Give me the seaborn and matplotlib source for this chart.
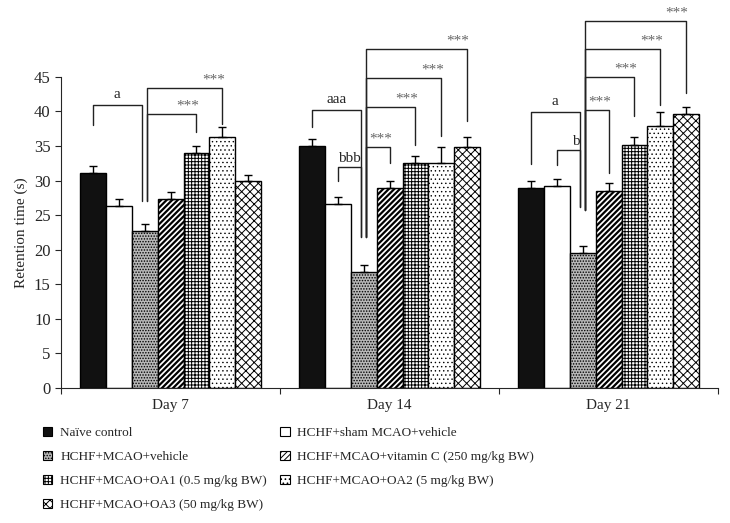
import numpy as np
import pandas as pd
import matplotlib
matplotlib.use("Agg")
import matplotlib.pyplot as plt
from matplotlib.patches import Patch
import seaborn as sns

days = ["Day 7", "Day 14", "Day 21"]
groups = ["Naïve control", "HCHF+sham MCAO+vehicle", "HCHF+MCAO+vehicle",
          "HCHF+MCAO+vitamin C (250 mg/kg BW)", "HCHF+MCAO+OA1 (0.5 mg/kg BW)",
          "HCHF+MCAO+OA2 (5 mg/kg BW)", "HCHF+MCAO+OA3 (50 mg/kg BW)"]

day7 = [31.1, 26.4, 22.7, 27.3, 34.0, 36.3, 30.0]
day14 = [35.0, 26.6, 16.8, 28.9, 32.6, 32.5, 34.9]
day21 = [29.0, 29.2, 19.6, 28.5, 35.2, 37.9, 39.6]

err7 = [1.0, 0.9, 1.0, 1.0, 1.0, 1.5, 0.8]
err14 = [1.0, 1.0, 1.0, 1.0, 1.0, 2.4, 1.4]
err21 = [1.0, 1.0, 1.0, 1.1, 1.1, 2.0, 1.1]

# brackets: day index, bar i, bar j, top, bottom of left leg, bottom of right leg, label
brackets = [
    (0, 0, 2, 40.9, 38.0, 27.0, "a"),
    (0, 2, 4, 39.7, 27.0, 37.0, "***"),
    (0, 2, 5, 43.4, 27.0, 38.2, "***"),
    (1, 0, 2, 40.2, 37.8, 21.9, "aaa"),
    (1, 1, 2, 32.0, 29.9, 21.9, "bbb"),
    (1, 2, 3, 34.9, 21.9, 32.5, "***"),
    (1, 2, 4, 40.7, 21.9, 35.1, "***"),
    (1, 2, 5, 44.8, 21.9, 36.4, "***"),
    (1, 2, 6, 49.0, 21.9, 38.6, "***"),
    (2, 0, 2, 39.9, 32.4, 26.2, "a"),
    (2, 1, 2, 34.4, 32.2, 26.2, "b"),
    (2, 2, 3, 40.2, 25.8, 31.1, "***"),
    (2, 2, 4, 45.0, 25.8, 39.3, "***"),
    (2, 2, 5, 49.0, 25.8, 41.0, "***"),
    (2, 2, 6, 53.1, 25.8, 42.6, "***"),
]

vals = [day7, day14, day21]
errs = [err7, err14, err21]
df = pd.DataFrame({
    "day": [d for d in days for g in groups],
    "group": groups * 3,
    "value": day7 + day14 + day21,
})

sns.set_style("ticks")
plt.rcParams["font.family"] = ["Liberation Serif", "DejaVu Serif"]
plt.rcParams["hatch.linewidth"] = 0.7

faces = ["#111111", "white", "#b8b8b8", "white", "white", "white", "white"]
hatches = [None, None, "......", "//////", "+++++", "....", "xxxx"]
hatch_lw = [0.7, 0.7, 0.7, 1.6, 0.7, 0.5, 0.7]


def style_patch(p, k):
    p.set_facecolor(faces[k])
    p.set_edgecolor("black")
    if hatches[k]:
        p.set_hatch(hatches[k])
        if hasattr(p, "set_hatch_linewidth"):
            p.set_hatch_linewidth(hatch_lw[k])


fig = plt.figure(figsize=(7.3, 5.23), dpi=100)
ax = fig.add_axes([0.0836, 0.258, 0.9, 0.595])

sns.barplot(data=df, x="day", y="value", hue="group", hue_order=groups,
            width=0.83, gap=0, errorbar=None, ax=ax, legend=False)

bar_conts = list(ax.containers)
centers = {}
for k, cont in enumerate(bar_conts):
    for d, bar in enumerate(cont):
        style_patch(bar, k)
        bar.set_linewidth(1.0)
        cx = bar.get_x() + bar.get_width() / 2
        centers[(d, k)] = cx
        ax.errorbar(cx, vals[d][k], yerr=[[0], [errs[d][k]]], fmt="none",
                    ecolor="black", elinewidth=1.0, capsize=3, capthick=1.0)

bw = bar_conts[0][0].get_width()
for d, i, j, top, b1, b2, lab in brackets:
    x1 = centers[(d, i)] + (0.1 * bw if i == 2 else 0)
    x2 = centers[(d, j)] - (0.1 * bw if j == 2 else 0)
    ax.plot([x1, x1, x2, x2], [b1, top, top, b2], color="#222222", lw=1.0,
            clip_on=False)
    if lab == "***":
        ax.text(x2 + 0.01, top + 0.2, lab, ha="right", va="bottom",
                fontsize=11, color="#666666")
    elif lab in ("a", "aaa"):
        ax.text((x1 + x2) / 2, top + 0.6, lab, ha="center", va="bottom",
                fontsize=11)
    else:
        ax.text(x2, top + 0.3, lab, ha="right", va="bottom", fontsize=11)

ax.set_ylim(0, 45)
ax.set_xlim(-0.5, 2.5)
ax.set_yticks(range(0, 46, 5))
ax.set_xticks([-0.5, 0.5, 1.5, 2.5])
ax.set_xticklabels([])
ax.set_xticks([0, 1, 2], minor=True)
ax.set_xticklabels(days, minor=True, fontsize=11)
ax.tick_params(axis="x", which="minor", length=0, pad=8)
ax.tick_params(axis="x", which="major", length=4)
ax.tick_params(axis="y", labelsize=12, length=4)
ax.set_xlabel("")
ax.set_ylabel("Retention time (s)", fontsize=11)
sns.despine(ax=ax)

handles = []
for k in range(7):
    h = Patch(label=groups[k], linewidth=0.8)
    style_patch(h, k)
    handles.append(h)

leg_kw = dict(loc="upper left", frameon=False, fontsize=9.5, handlelength=0.7,
              handleheight=0.7, handletextpad=0.6, labelspacing=0.9,
              borderpad=0, borderaxespad=0)
col1 = [0, 2, 4, 6]
col2 = [1, 3, 5]
fig.legend([handles[k] for k in col1], [groups[k] for k in col1],
           bbox_to_anchor=(0.059, 0.184), **leg_kw)
fig.legend([handles[k] for k in col2], [groups[k] for k in col2],
           bbox_to_anchor=(0.384, 0.184), **leg_kw)

fig.savefig("out.png", dpi=100)
